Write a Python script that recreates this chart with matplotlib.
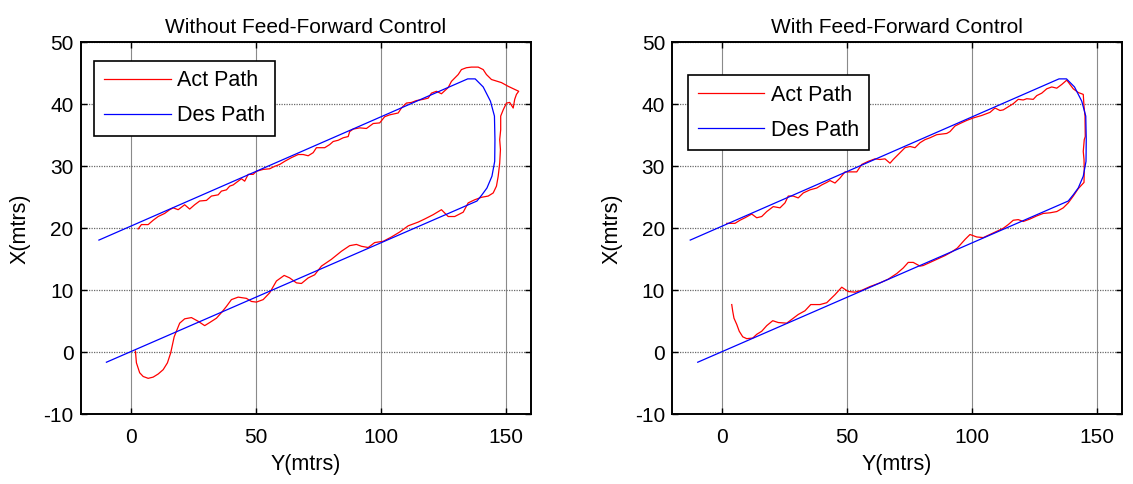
import numpy as np
import matplotlib
matplotlib.use("Agg")
import matplotlib.pyplot as plt

plt.rcParams['font.family'] = ['Liberation Sans', 'DejaVu Sans']
plt.rcParams['axes.unicode_minus'] = False

# desired path (same in both plots): horizontal = Y(mtrs), vertical = X(mtrs)
des_y = [-12.7, 134.8, 137.8, 141.0, 143.9, 145.5, 145.7, 145.6, 144.5, 142.5, 140.5, 138.5, -9.7]
des_x = [18.1, 44.1, 44.1, 42.8, 40.5, 38.1, 34.3, 30.8, 28.4, 26.5, 25.4, 24.4, -1.6]

# actual path without feed-forward, (Y, X) pairs
act_nofb = np.array([
    (1.9, 0.2), (2.3, -1.7), (3.6, -3.3), (5, -3.9), (7, -4.2), (9, -4.0), (11, -3.5), (13, -2.8),
    (14.7, -1.7), (16, -0.1), (16.6, 1.0), (17.4, 2.5), (18.3, 3.4), (19.6, 4.7), (21.6, 5.4),
    (24.3, 5.6), (27, 5.0), (29.6, 4.3), (31.6, 4.8), (34.3, 5.5), (36.3, 6.4), (38.3, 7.4),
    (40.3, 8.5), (43, 8.9), (46.3, 8.7), (48.3, 8.2), (50.3, 8.1), (53, 8.5), (55.6, 9.6),
    (58.3, 11.5), (61.4, 12.4), (63.6, 12.0), (66.3, 11.2), (68.3, 11.1), (71, 12.0), (73.6, 12.5),
    (76.3, 13.9), (80.3, 15.0), (84.3, 16.3), (87.6, 17.2), (90.3, 17.4), (92.3, 17.1), (95, 16.9),
    (97.6, 17.7), (101, 17.9), (104.3, 18.6), (107.6, 19.4), (111, 20.4), (115, 21.0), (117.6, 21.5),
    (121, 22.2), (124.3, 23.0), (127, 21.9), (129.6, 21.9), (133, 22.6), (135, 24.1), (137.6, 24.6),
    (140.3, 25.0), (143, 25.2), (145, 25.7), (146.3, 26.8), (147, 28.4), (147.6, 30.5), (147.9, 32.7),
    (147.6, 34.3), (148, 35.9), (148, 38.1), (149, 39.1), (150.3, 40.2), (151.6, 40.3), (153, 39.4),
    (153.6, 40.8), (154.3, 41.6), (155.2, 42.1), (153.6, 42.4), (151, 42.9), (148.3, 43.5),
    (144.3, 44.0), (142.3, 44.8), (141, 45.6), (139, 46.0), (136.3, 46.0), (134.3, 45.9),
    (132.3, 45.6), (131, 44.8), (128.3, 43.7), (127, 42.7), (124.3, 41.7), (122.3, 42.1),
    (120.3, 41.8), (119, 41.0), (117, 40.8), (114.3, 40.6), (112.3, 40.3), (110.3, 40.2),
    (108.3, 39.4), (107, 38.6), (103.6, 38.3), (101.6, 38.0), (99.6, 37.0), (97, 36.9), (94.3, 36.1),
    (91.6, 36.2), (89, 36.0), (87.6, 35.6), (87, 34.8), (85, 34.6), (83, 34.2), (81, 34.0),
    (79.6, 33.5), (77.6, 33.0), (74.3, 33.0), (73, 32.2), (71, 31.7), (69, 31.9), (67, 31.9),
    (64.3, 31.4), (61.6, 30.8), (59.6, 30.3), (57.6, 30.0), (55.6, 29.6), (53, 29.5), (50.3, 29.2),
    (49, 28.7), (47, 28.7), (45.6, 27.6), (44.3, 28.0), (43, 27.6), (41, 27.0), (39.6, 26.8),
    (38.3, 26.2), (36.3, 26.0), (35, 25.4), (32.3, 25.2), (30.3, 24.5), (27.6, 24.4), (25.6, 23.8),
    (23.6, 23.1), (21.6, 23.8), (19, 23.0), (17, 23.3), (15.6, 23.0), (13.6, 22.4), (11, 21.9),
    (9, 21.3), (7, 20.6), (4.3, 20.6), (3, 19.9),
])

# actual path with feed-forward, (Y, X) pairs
act_ff = np.array([
    (3.9, 7.7), (4.3, 6.6), (4.8, 5.5), (5.9, 4.5), (6.9, 3.4), (8.3, 2.5), (9.9, 2.2), (12.3, 2.3),
    (13.9, 2.9), (15.9, 3.4), (17.9, 4.3), (20.3, 5.1), (22.5, 4.8), (25.9, 4.7), (27.9, 5.3),
    (30.5, 6.1), (33.2, 6.7), (35.5, 7.7), (39.2, 7.7), (41.9, 8.0), (45.2, 9.3), (47.9, 10.5),
    (50.5, 9.8), (53.2, 9.7), (55.9, 10.0), (59.2, 10.6), (63.2, 11.2), (66.5, 11.8), (69.9, 12.7),
    (72.5, 13.6), (74.5, 14.5), (76.5, 14.5), (79.2, 13.9), (80.5, 14.0), (83.2, 14.5), (85.9, 15.0),
    (89.2, 15.6), (91.9, 16.2), (94.1, 16.8), (97.2, 18.2), (99.2, 19.0), (101.9, 18.6), (104.5, 18.5),
    (107.2, 19.0), (109.9, 19.5), (112.5, 20.0), (114.5, 20.6), (116.5, 21.3), (118.5, 21.4),
    (120.5, 21.1), (123.2, 21.5), (125.9, 22.0), (128.5, 22.4), (131.2, 22.5), (133.9, 22.7),
    (136.5, 23.3), (138.5, 24.1), (140.5, 25.2), (142.5, 26.4), (144.8, 27.4), (144.9, 29.5),
    (144.8, 31.1), (144.5, 32.4), (144.9, 34.3), (145.3, 34.8), (145.2, 38.1), (144.8, 39.7),
    (144.5, 41.6), (142.5, 41.9), (140.5, 42.5), (139.2, 43.2), (137.9, 43.9), (135.9, 43.2),
    (133.9, 42.6), (131.9, 42.8), (129.9, 42.5), (127.9, 41.8), (125.9, 41.4), (124.5, 40.8),
    (121.9, 40.9), (120.5, 40.7), (118.5, 40.8), (116.5, 40.1), (114.5, 39.6), (112.5, 39.1),
    (111.2, 39.0), (109.2, 39.4), (107.2, 38.7), (103.9, 38.2), (100.5, 37.8), (97.9, 37.4),
    (95.2, 36.9), (93.2, 36.5), (91.2, 35.6), (89.9, 35.3), (85.9, 35.1), (83.2, 34.6), (81.2, 34.3),
    (79.2, 33.8), (77.2, 33.0), (75.2, 33.2), (73.2, 33.0), (71.2, 32.2), (68.5, 31.1), (67.2, 30.5),
    (65.2, 31.2), (63.2, 31.1), (61.2, 31.2), (58.5, 30.8), (55.9, 30.3), (53.9, 29.1), (51.2, 29.1),
    (49.2, 29.1), (47.2, 28.1), (45.2, 27.3), (43.2, 27.7), (41.9, 27.4), (39.9, 27.0), (37.9, 26.5),
    (35.2, 26.2), (32.5, 25.7), (30.5, 24.9), (28.5, 25.2), (26.5, 25.2), (25.2, 24.1), (23.2, 23.3),
    (20.5, 23.5), (17.9, 22.7), (15.9, 21.9), (13.9, 21.7), (11.9, 22.3), (9.2, 21.7), (7.2, 21.3),
    (5.2, 20.8), (1.9, 20.8),
])

titles = ["Without Feed-Forward Control", "With Feed-Forward Control"]
x_ticks = [0, 50, 100, 150]
y_ticks = [-10, 0, 10, 20, 30, 40, 50]

fig = plt.figure(figsize=(11.33, 4.84), dpi=100)
ax1 = fig.add_axes([0.0712, 0.144, 0.3972, 0.7686])
ax2 = fig.add_axes([0.5931, 0.144, 0.3972, 0.7686])

for ax, act, title, leg_pos in [(ax1, act_nofb, titles[0], (0.030, 0.951)),
                                (ax2, act_ff, titles[1], (0.0356, 0.912))]:
    ax.plot(act[:, 0], act[:, 1], color='#ff0000', lw=0.9, label='Act Path')
    ax.plot(des_y, des_x, color='#0000ff', lw=0.9, label='Des Path')
    ax.set_xlim(-20, 160)
    ax.set_ylim(-10, 50)
    ax.set_xticks(x_ticks)
    ax.set_yticks(y_ticks)
    ax.xaxis.grid(True, color='#8a8a8a', lw=0.8)
    ax.yaxis.grid(True, color='#6a6a6a', lw=0.9, linestyle=(0, (1, 1)))
    ax.set_axisbelow(True)
    ax.tick_params(direction='in', length=4, width=1, top=True, right=True,
                   labelsize=15, pad=10)
    ax.tick_params(axis='y', pad=5)
    for s in ax.spines.values():
        s.set_linewidth(1.4)
    ax.set_title(title, fontsize=15, pad=7)
    ax.set_xlabel("Y(mtrs)", fontsize=15.5, labelpad=5)
    ax.set_ylabel("X(mtrs)", fontsize=15.5, labelpad=9)
    leg = ax.legend(loc='upper left', bbox_to_anchor=leg_pos, borderaxespad=0,
                    fontsize=15.5, frameon=True, fancybox=False, framealpha=1,
                    handlelength=3.1, handletextpad=0.3, borderpad=0.45, labelspacing=0.65)
    leg.get_frame().set_edgecolor('black')
    leg.get_frame().set_linewidth(1.2)

fig.savefig("out.png", dpi=100)
